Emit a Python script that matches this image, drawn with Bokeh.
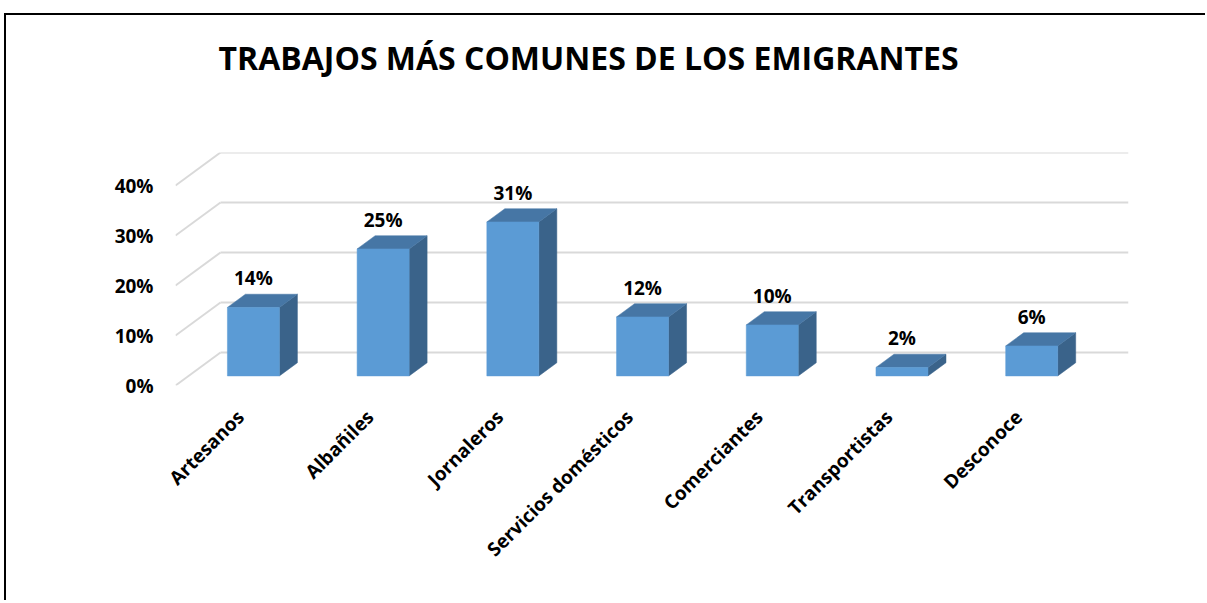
from bokeh.plotting import figure
from bokeh.models import Range1d, FixedTicker, Title
from bokeh.embed import file_html
from bokeh.resources import INLINE
from bokeh.core.properties import value
import math

# ---- data ----
categories = ["Artesanos", "Albañiles", "Jornaleros", "Servicios domésticos",
              "Comerciantes", "Transportistas", "Desconoce"]
values = [13.7, 25.4, 30.8, 11.8, 10.2, 1.7, 6.0]
value_labels = ["14%", "25%", "31%", "12%", "10%", "2%", "6%"]
y_ticks = [0, 10, 20, 30, 40]
y_tick_labels = ["0%", "10%", "20%", "30%", "40%"]
title_text = "TRABAJOS MÁS COMUNES DE LOS EMIGRANTES"

# ---- geometry / style ----
FONT = "Open Sans"
W, H = 1201, 587
MB_L, MB_T = 169, 137
FRAME_W, FRAME_H = 953, 233
MB_R = W - MB_L - FRAME_W
MB_B = H - MB_T - FRAME_H
DEPTH_DX_PX, DEPTH_DY_PX = 45.0, 33.0
PX_PER_UNIT_Y = 5.0
n = len(categories)
cat_px = (FRAME_W - DEPTH_DX_PX) / n
x_end = FRAME_W / cat_px
y_end = FRAME_H / PX_PER_UNIT_Y
ddx = DEPTH_DX_PX / cat_px         # full depth in x data units
ddy = DEPTH_DY_PX / PX_PER_UNIT_Y  # full depth in y data units
F0 = 0.29     # depth of bar front face
FB = 0.40     # bar depth
HALF = 26.0 / cat_px

FRONT = "#5B9BD5"
TOP = "#4676A5"
SIDE = "#3A638A"
GRID = "#D9D9D9"

p = figure(width=W, height=H, x_range=Range1d(0, x_end), y_range=Range1d(0, y_end),
           output_backend="svg", toolbar_location=None,
           min_border_left=MB_L, min_border_right=MB_R,
           min_border_top=MB_T, min_border_bottom=MB_B)
p.styles = {"position": "relative", "left": "6px", "top": "15px",
            "box-shadow": "-2px -2px 0 0 #000"}
p.outline_line_color = None
p.xgrid.visible = False
p.ygrid.visible = False

# spacer between the frame and the title
p.add_layout(Title(text=" ", text_font=FONT, text_font_size="32px", standoff=24), "above")

# title
p.title.text = title_text
p.title.text_font = FONT
p.title.text_font_size = "32px"
p.title.text_font_style = "bold"
p.title.text_color = "#000000"
p.title.align = "left"
p.title.offset = 43
p.title.standoff = 10

# gridlines: back wall + left wall diagonals
back_xs, back_ys, side_xs, side_ys = [], [], [], []
for t in y_ticks:
    back_xs.append([ddx, n + ddx]); back_ys.append([t + ddy, t + ddy])
    side_xs.append([0, ddx]); side_ys.append([t, t + ddy])
p.multi_line(back_xs + side_xs, back_ys + side_ys, line_color=GRID, line_width=2)

# bars
fx, fy, tx, ty, sx, sy = [], [], [], [], [], []
lab_x, lab_y = [], []
for i, v in enumerate(values):
    c = i + 0.5 + F0 * ddx
    b = F0 * ddy
    l, r = c - HALF, c + HALF
    top = v + b
    bx, by = FB * ddx, FB * ddy
    fx.append([l, r, r, l]); fy.append([b, b, top, top])
    tx.append([l, r, r + bx, l + bx]); ty.append([top, top, top + by, top + by])
    sx.append([r, r + bx, r + bx, r]); sy.append([b, b + by, top + by, top])
    lab_x.append(c)
    lab_y.append(top + by)

p.patches(sx, sy, fill_color=SIDE, line_color=SIDE, line_width=0.5)
p.patches(tx, ty, fill_color=TOP, line_color=TOP, line_width=0.5)
p.patches(fx, fy, fill_color=FRONT, line_color=FRONT, line_width=0.5)

p.text(lab_x, lab_y, text=value_labels, text_align="center", text_baseline="bottom",
       y_offset=-3, text_font=value(FONT), text_font_size="19px",
       text_font_style="bold", text_color="#000000")

# axes
ya = p.yaxis[0]
ya.ticker = FixedTicker(ticks=y_ticks)
ya.major_label_overrides = {t: s for t, s in zip(y_ticks, y_tick_labels)}
ya.axis_line_color = None
ya.major_tick_line_color = None
ya.minor_tick_line_color = None
ya.major_label_standoff = 16
ya.major_label_text_font = FONT
ya.major_label_text_font_size = "19px"
ya.major_label_text_font_style = "bold"
ya.major_label_text_color = "#000000"

xa = p.xaxis[0]
x_ticks = [i + 0.5 for i in range(n)]
xa.ticker = FixedTicker(ticks=x_ticks)
xa.major_label_overrides = {t: s for t, s in zip(x_ticks, categories)}
xa.major_label_orientation = math.pi / 4
xa.axis_line_color = None
xa.major_tick_line_color = None
xa.minor_tick_line_color = None
xa.major_label_standoff = 22
xa.major_label_text_font = FONT
xa.major_label_text_font_size = "19px"
xa.major_label_text_font_style = "bold"
xa.major_label_text_color = "#000000"

open("out.html", "w").write(file_html(p, INLINE))
